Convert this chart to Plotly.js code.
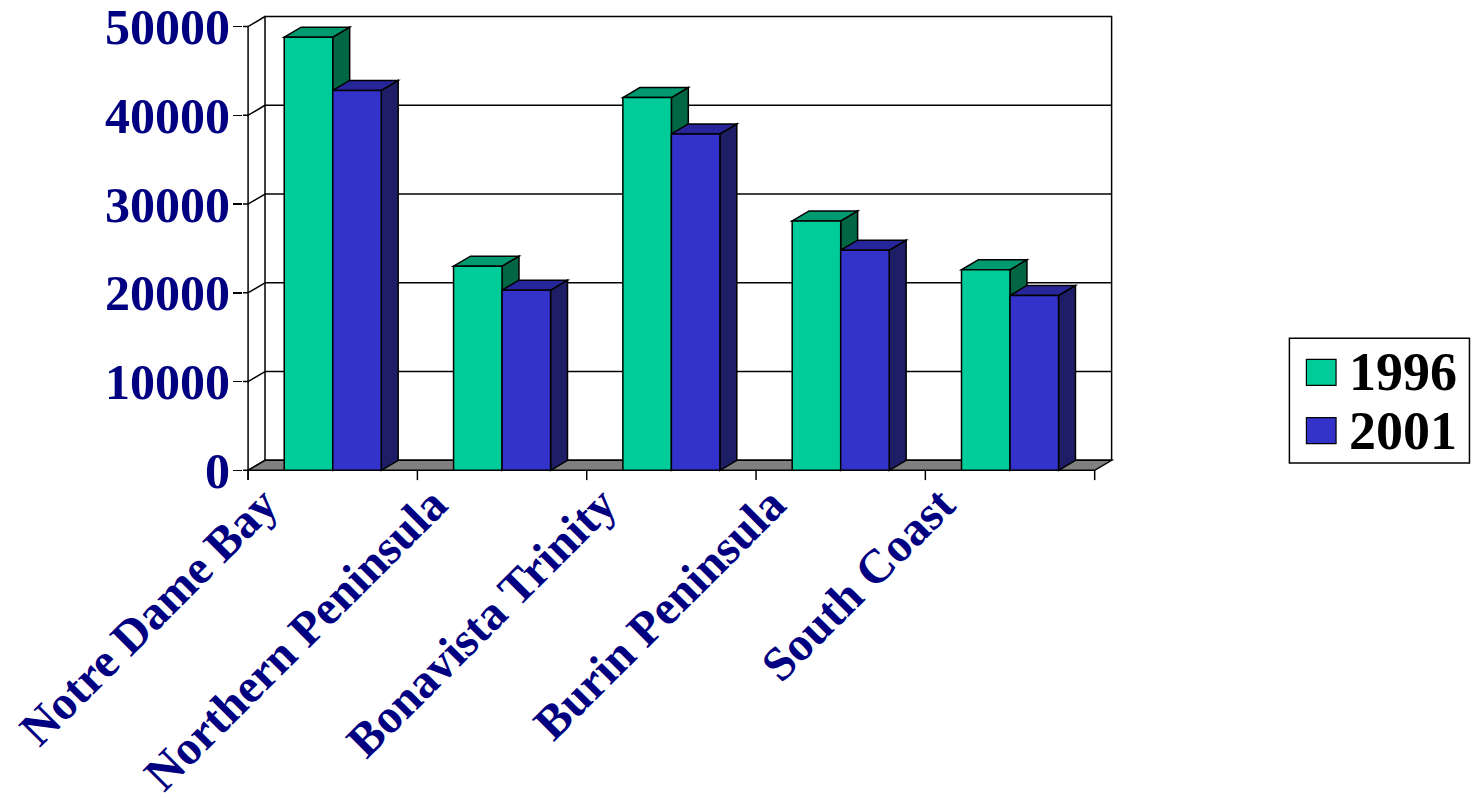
<!DOCTYPE html>
<html>
<head>
<meta charset="utf-8">
<script src="https://cdn.plot.ly/plotly-3.0.1.min.js"></script>
<style>html,body{margin:0;padding:0;background:#fff;}#chart{width:1477px;height:799px;}</style>
</head>
<body>
<div id="chart"></div>
<script>
// ---- data ----
const categories = ["Notre Dame Bay", "Northern Peninsula", "Bonavista Trinity", "Burin Peninsula", "South Coast"];
const seriesNames = ["1996", "2001"];
const values1996 = [48800, 23000, 42000, 28100, 22600];
const values2001 = [42800, 20300, 37900, 24800, 19700];
const yTicks = [0, 10000, 20000, 30000, 40000, 50000];

// ---- styling ----
const frontColors = ["#00CC99", "#3333CC"];
const topColors = ["#009970", "#26269A"];
const sideColors = ["#006644", "#1E1E66"];
const navy = "#000080";
const fontFam = "'Liberation Serif', 'Times New Roman', serif";

const DX = 0.1;      // depth offset in category units
const DY = 1130;     // depth offset in value units
const BARGAP = 0.427;
const barW = (1 - BARGAP) / 2;
const nCat = categories.length;
const yMax = yTicks[yTicks.length - 1];
const xs = categories.map((_, i) => i);

const seriesVals = [values1996, values2001];

const shapes = [];
const L = -0.5, R = nCat - 0.5;

// back wall
shapes.push({type: "path", xref: "x", yref: "y", layer: "below",
  path: `M${L+DX},${DY} L${L+DX},${yMax+DY} L${R+DX},${yMax+DY} L${R+DX},${DY} Z`,
  fillcolor: "#FFFFFF", line: {color: "#000", width: 1.5}});
// grid lines on back wall + left wall diagonals
yTicks.forEach(v => {
  if (v > 0 && v < yMax) {
    shapes.push({type: "line", xref: "x", yref: "y", layer: "below",
      x0: L+DX, x1: R+DX, y0: v+DY, y1: v+DY, line: {color: "#000", width: 1.5}});
  }
  shapes.push({type: "path", xref: "x", yref: "y", layer: "below",
    path: `M${L-0.03},${v} L${L},${v} L${L+DX},${v+DY}`,
    line: {color: "#000", width: 1.5}});
});
// floor
shapes.push({type: "path", xref: "x", yref: "y", layer: "below",
  path: `M${L},0 L${L+DX},${DY} L${R+DX},${DY} L${R},0 Z`,
  fillcolor: "#808080", line: {color: "#000", width: 1.5}});
// front axis line
shapes.push({type: "line", xref: "x", yref: "y", layer: "below",
  x0: L, x1: L, y0: -1100, y1: yMax, line: {color: "#000", width: 1.5}});
// x axis boundary ticks
for (let k = 0; k <= nCat; k++) {
  shapes.push({type: "line", xref: "x", yref: "y", layer: "below",
    x0: L+k, x1: L+k, y0: 0, y1: -1100, line: {color: "#000", width: 1.5}});
}
// 3D faces of bars
xs.forEach((c, ci) => {
  seriesVals.forEach((vals, si) => {
    const v = vals[ci];
    const x0 = c - barW + si * barW;
    const x1 = x0 + barW;
    shapes.push({type: "path", xref: "x", yref: "y", layer: "below",
      path: `M${x1},0 L${x1},${v} L${x1+DX},${v+DY} L${x1+DX},${DY} Z`,
      fillcolor: sideColors[si], line: {color: "#000", width: 1.5}});
    shapes.push({type: "path", xref: "x", yref: "y", layer: "below",
      path: `M${x0},${v} L${x0+DX},${v+DY} L${x1+DX},${v+DY} L${x1},${v} Z`,
      fillcolor: topColors[si], line: {color: "#000", width: 1.5}});
  });
});

// custom legend (paper coords)
const legBox = {x0: 1.2, x1: 1.4065, y0: 0.0386, y1: 0.3065};
shapes.push({type: "rect", xref: "paper", yref: "paper", x0: legBox.x0, x1: legBox.x1, y0: legBox.y0, y1: legBox.y1,
  line: {color: "#000", width: 1.5}, fillcolor: "#FFFFFF"});
const legRows = [0.233, 0.108];
const annotations = [];
seriesNames.forEach((name, si) => {
  shapes.push({type: "rect", xref: "paper", yref: "paper",
    x0: 1.2195, x1: 1.2535, y0: legRows[si] - 0.028, y1: legRows[si] + 0.028,
    fillcolor: frontColors[si], line: {color: "#000", width: 1.2}});
  annotations.push({xref: "paper", yref: "paper", x: 1.266, y: legRows[si],
    xanchor: "left", yanchor: "middle", showarrow: false, text: "<b>" + name + "</b>",
    font: {family: fontFam, size: 54, color: "#000"}});
});

const traces = seriesVals.map((vals, si) => ({
  type: "bar", x: xs, y: vals, name: seriesNames[si],
  marker: {color: frontColors[si], line: {color: "#000", width: 1.5}},
  showlegend: false, hoverinfo: "x+y"
}));

const layout = {
  width: 1477, height: 799,
  margin: {l: 243, r: 361.7, t: 14.5, b: 318.3, autoexpand: false},
  paper_bgcolor: "#FFFFFF", plot_bgcolor: "rgba(0,0,0,0)",
  barmode: "group", bargap: BARGAP, bargroupgap: 0,
  showlegend: false,
  xaxis: {range: [-0.53, 4.62], tickvals: xs.map(x => x - 0.41), ticktext: categories.map(t => "<b>" + t + "</b>"),
    tickangle: -45, ticks: "", showgrid: false, zeroline: false, showline: false, automargin: false,
    anchor: "free", position: 0.033,
    tickfont: {family: fontFam, size: 48, color: navy}},
  yaxis: {range: [-1200, 51300], tickvals: yTicks, ticktext: yTicks.map(v => "<b>" + v + "</b>"),
    ticks: "outside", ticklen: 9, tickwidth: 1.5, tickcolor: "#000", ticklabelstandoff: -7,
    ticklabeloverflow: "allow",
    showgrid: false, zeroline: false, showline: false, automargin: false,
    tickfont: {family: fontFam, size: 50, color: navy}},
  shapes: shapes,
  annotations: annotations
};

Plotly.newPlot("chart", traces, layout, {displayModeBar: false, staticPlot: true});
</script>
</body>
</html>
